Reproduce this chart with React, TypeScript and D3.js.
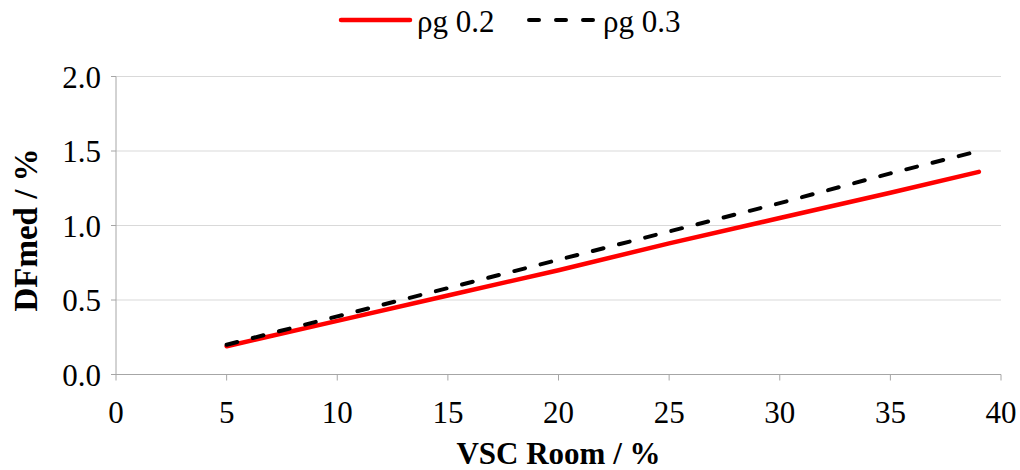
import React from "react";
import * as d3 from "d3";

const xValues = [5, 10, 15, 20, 25, 30, 35, 39];
const rho02 = [0.19, 0.36, 0.53, 0.7, 0.88, 1.05, 1.22, 1.36];
const rho03 = [0.2, 0.39, 0.58, 0.77, 0.96, 1.15, 1.35, 1.5];
const xTicks = [0, 5, 10, 15, 20, 25, 30, 35, 40];
const yTicks = [0, 0.5, 1.0, 1.5, 2.0];
const seriesNames = ["ρg 0.2", "ρg 0.3"];

const W = 1020;
const H = 470;
const left = 116;
const right = 1001;
const top = 76.5;
const bottom = 374.5;
const FF = "Liberation Serif";
const FS = 31;

export default function App() {
  const x = d3.scaleLinear().domain([0, 40]).range([left, right]);
  const y = d3.scaleLinear().domain([0, 2]).range([bottom, top]);
  const line = d3
    .line<[number, number]>()
    .x((d) => x(d[0]))
    .y((d) => y(d[1]));
  const s1 = xValues.map((v, i) => [v, rho02[i]] as [number, number]);
  const s2 = xValues.map((v, i) => [v, rho03[i]] as [number, number]);

  return (
    <svg width={W} height={H} style={{ position: "absolute", left: 0, top: 0 }}>
      <rect x={0} y={0} width={W} height={H} fill="#fff" />
      {yTicks.slice(1).map((t) => (
        <line key={"g" + t} x1={left} x2={right} y1={y(t)} y2={y(t)} stroke="#d9d9d9" strokeWidth={1} />
      ))}
      <line x1={left} x2={left} y1={top} y2={bottom} stroke="#a6a6a6" strokeWidth={1} />
      {yTicks.map((t) => (
        <g key={"y" + t}>
          <line x1={left - 5} x2={left} y1={y(t)} y2={y(t)} stroke="#a6a6a6" />
          <text x={left - 15} y={y(t) + 11} textAnchor="end" fontSize={FS} fontFamily={FF}>
            {t.toFixed(1)}
          </text>
        </g>
      ))}
      <line x1={left} x2={right} y1={bottom} y2={bottom} stroke="#a6a6a6" strokeWidth={1} />
      {xTicks.map((t) => (
        <g key={"x" + t}>
          <line x1={x(t)} x2={x(t)} y1={bottom} y2={bottom + 6} stroke="#a6a6a6" />
          <text x={x(t)} y={423} textAnchor="middle" fontSize={FS} fontFamily={FF}>
            {t}
          </text>
        </g>
      ))}
      <path d={line(s1) || ""} fill="none" stroke="#ff0000" strokeWidth={4.5} strokeLinecap="round" />
      <path
        d={line(s2) || ""}
        fill="none"
        stroke="#000"
        strokeWidth={4}
        strokeDasharray="11 16"
        strokeLinecap="round"
      />
      <text x={(left + right) / 2} y={464} textAnchor="middle" fontSize={FS} fontWeight="bold" fontFamily={FF}>
        VSC Room / %
      </text>
      <text
        transform={`translate(37, 230) rotate(-90)`}
        textAnchor="middle"
        fontSize={33}
        fontWeight="bold"
        fontFamily={FF}
      >
        DFmed / %
      </text>
      <line x1={341} x2={410} y1={20} y2={20} stroke="#ff0000" strokeWidth={4.5} strokeLinecap="round" />
      <text x={417} y={32} fontSize={FS} fontFamily={FF}>
        {seriesNames[0]}
      </text>
      <line x1={529} x2={594} y1={20} y2={20} stroke="#000" strokeWidth={4} strokeDasharray="10 17" strokeLinecap="round" />
      <text x={603} y={32} fontSize={FS} fontFamily={FF}>
        {seriesNames[1]}
      </text>
    </svg>
  );
}
